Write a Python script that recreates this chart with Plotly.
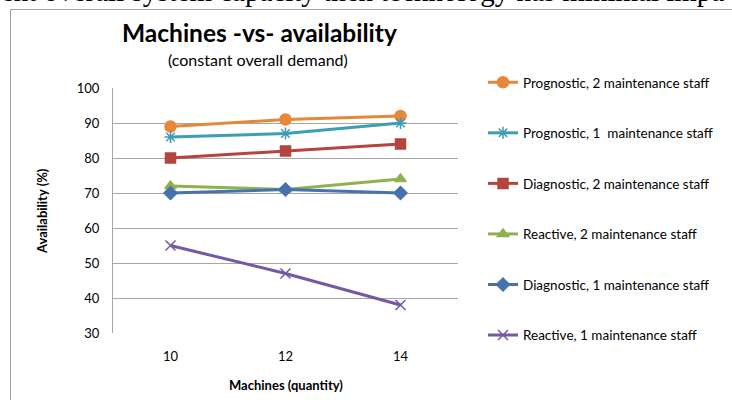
import plotly.graph_objects as go

machines = ["10", "12", "14"]
series_names = [
    "Prognostic, 2 maintenance staff",
    "Prognostic, 1  maintenance staff",
    "Diagnostic, 2 maintenance staff",
    "Reactive, 2 maintenance staff",
    "Diagnostic, 1 maintenance staff",
    "Reactive, 1 maintenance staff",
]
prog2 = [89, 91, 92]
prog1 = [86, 87, 90]
diag2 = [80, 82, 84]
react2 = [72, 71, 74]
diag1 = [70, 71, 70]
react1 = [55, 47, 38]
y_ticks = [30, 40, 50, 60, 70, 80, 90, 100]

values = [prog2, prog1, diag2, react2, diag1, react1]
colors = ["#E6873A", "#3E9DB4", "#B5443F", "#8FB24E", "#4673AD", "#7558A0"]
symbols = ["circle", "asterisk-open", "square", "triangle-up", "diamond", "x-thin-open"]
sizes = [11, 10, 10, 10, 10, 10]

W, H = 732, 400
L, R, T, B = 113, 274, 88, 67
pw, ph = W - L - R, H - T - B

def px(x):
    return (x - L) / pw

def py(y):
    return (H - B - y) / ph

font = "Lato, 'Open Sans', sans-serif"
fig = go.Figure()
for i, (name, vals) in enumerate(zip(series_names, values)):
    fig.add_trace(go.Scatter(
        x=machines, y=vals, name=name, mode="lines+markers",
        line=dict(color=colors[i], width=3),
        marker=dict(symbol=symbols[i], size=sizes[i], color=colors[i],
                    line=dict(color=colors[i], width=1.5)),
        legendgroup=str(i),
    ))

fig.update_layout(
    width=W, height=H,
    margin=dict(l=L, r=R, t=T, b=B, autoexpand=False),
    paper_bgcolor="white", plot_bgcolor="white",
    font=dict(family=font, size=12.5, color="#000000"),
    showlegend=True,
    legend=dict(x=px(483), y=1 - 67 / H, xanchor="left", yanchor="top", yref="container",
                maxheight=1,
                traceorder="grouped", tracegroupgap=30,
                font=dict(size=13.5, family=font), itemwidth=30,
                bgcolor="rgba(0,0,0,0)"),
    xaxis=dict(type="category", range=[-0.5, 2.5], showgrid=False,
               showline=False, ticks="", tickfont=dict(size=13),
               ticklabelstandoff=14, zeroline=False),
    yaxis=dict(range=[30, 100], tickvals=y_ticks, showgrid=True, gridcolor="#A6A6A6",
               gridwidth=1, showline=True, linecolor="#A6A6A6", ticks="",
               tickfont=dict(size=13), zeroline=False, ticklabelstandoff=10),
)

fig.add_shape(type="rect", xref="paper", yref="paper",
              x0=px(10.5), x1=px(745), y0=py(410), y1=py(9.5),
              line=dict(color="#A0A0A0", width=1), fillcolor="rgba(0,0,0,0)", layer="below")

fig.add_annotation(text="<b>Machines -vs- availability</b>", xref="paper", yref="paper",
                   x=px(259), y=py(33), xanchor="center", yanchor="middle",
                   showarrow=False, font=dict(size=24.5, family=font))
fig.add_annotation(text="(constant overall demand)", xref="paper", yref="paper",
                   x=px(258), y=py(60), xanchor="center", yanchor="middle",
                   showarrow=False, font=dict(size=16, family=font))
fig.add_annotation(text="<b>Machines (quantity)</b>", xref="paper", yref="paper",
                   x=px(286), y=py(385), xanchor="center", yanchor="middle",
                   showarrow=False, font=dict(size=13, family=font))
fig.add_annotation(text="<b>Availability (%)</b>", xref="paper", yref="paper",
                   x=px(42), y=py(211), xanchor="center", yanchor="middle", textangle=-90,
                   showarrow=False, font=dict(size=13, family=font))
fig.add_annotation(text="ent overall system capacity then technology has minimal impa",
                   xref="paper", yref="paper", x=px(-1), y=py(9),
                   xanchor="left", yanchor="bottom", showarrow=False,
                   font=dict(size=29, family="'Liberation Serif', serif"))

fig.write_html("out.html", config={"displayModeBar": False},
               post_script="document.body.style.margin='0';")
